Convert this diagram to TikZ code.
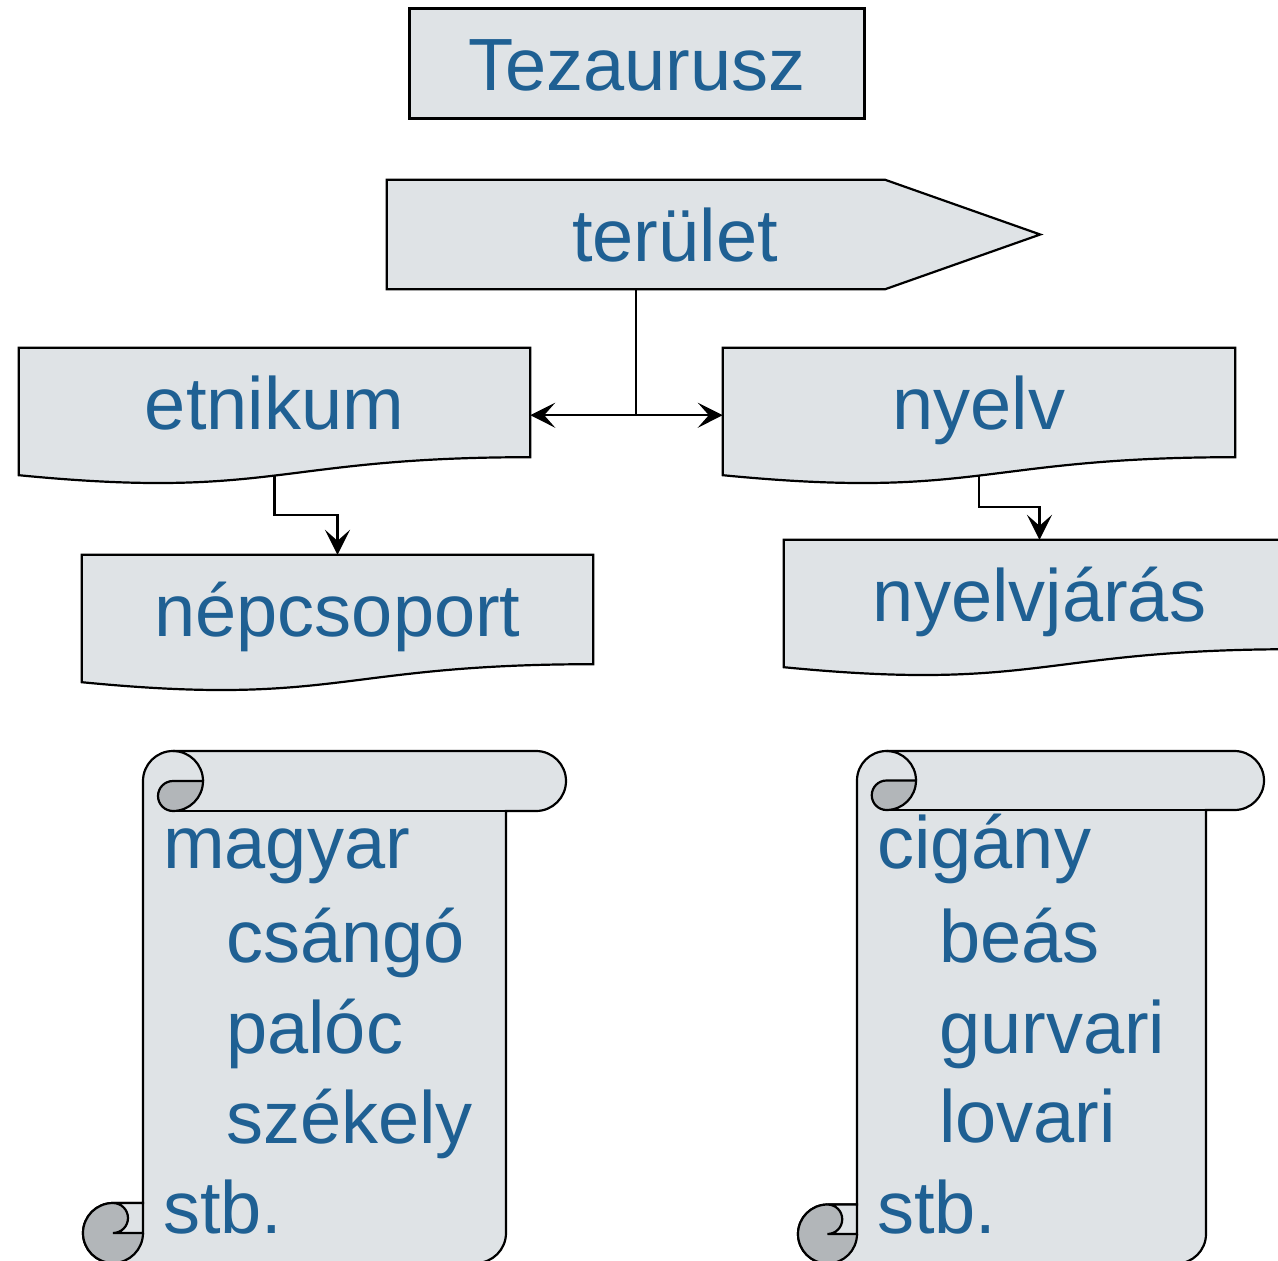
\documentclass[tikz,border=0pt]{standalone}
\usepackage{fontspec}
\setmainfont{Liberation Sans}
\usetikzlibrary{arrows.meta,calc,backgrounds}
\definecolor{boxfill}{RGB}{223,227,230}
\definecolor{curlfill}{RGB}{178,182,185}
\definecolor{txtblue}{RGB}{31,96,147}
\tikzset{
 shapeline/.style={draw=black, fill=boxfill, line width=2.2pt, line join=miter},
 lbl/.style={font=\fontsize{74pt}{88pt}\selectfont, text=txtblue, inner sep=0pt},
 boxn/.style={lbl, minimum height=109pt, text height=54pt, text depth=0pt},
 conn/.style={line width=2.4pt, draw=black},
 arr/.style={conn, -{Stealth[length=25pt,width=25pt,inset=11pt]}},
 linetxt/.style={lbl, anchor=base west},
}
\newcommand{\docpath}[1]{%
  \path[shapeline] (#1.north west) -- (#1.north east) -- (#1.south east)
    .. controls (#1.south) and ($(#1.south)+(0,-43)$) .. ($(#1.south west)+(0,-18)$) -- cycle;}
\newcommand{\scrolldraw}[6]{% L T R E r Bc
  \path[shapeline] ({#1},{-(#2+#5)}) arc[start angle=180,end angle=90,radius=#5]
    -- ({#4-#5},{-(#2)}) arc[start angle=90,end angle=-90,radius=#5]
    -- ({#3},{-(#2+2*#5)}) -- ({#3},{-(#6)}) arc[start angle=0,end angle=-90,radius=#5]
    -- ({#1-#5},{-(#6+#5)}) arc[start angle=270,end angle=90,radius=#5]
    -- ({#1},{-(#6-#5)}) -- cycle;
  \draw[shapeline, fill=none] ({#1+#5},{-(#2+2*#5)}) -- ({#3},{-(#2+2*#5)});
  \draw[shapeline, fill=none] ({#1+#5},{-(#2)}) arc[start angle=90,end angle=0,radius=#5];
  \path[shapeline, fill=curlfill] ({#1+2*#5},{-(#2+#5)}) arc[start angle=0,end angle=-90,radius=#5]
    arc[start angle=-90,end angle=-270,radius=#5/2] -- cycle;
  \fill[curlfill] ({#1-#5},{-(#6)}) circle[radius=#5];
  \draw[shapeline, fill=none] ({#1-#5},{-(#6-#5)}) arc[start angle=90,end angle=360,radius=#5];
  \path[shapeline] ({#1-#5},{-(#6-#5)}) -- ({#1},{-(#6-#5)}) -- ({#1},{-(#6)}) -- ({#1-#5},{-(#6)})
    arc[start angle=-90,end angle=90,radius=#5/2] -- cycle;
}
\begin{document}
\begin{tikzpicture}[x=1pt,y=1pt]
\useasboundingbox (0,0) rectangle (1278,-1261);
\clip (0,0) rectangle (1278,-1261);

% top title
\node[boxn, shapeline, minimum width=455pt, minimum height=110pt] (tez) at (637,-63.5) {Tezaurusz};

% main nodes
\node[boxn, minimum width=498pt] (ter) at (636,-234.5) {\hspace*{78pt}terület};
\node[boxn, minimum width=511pt] (etn) at (274.5,-402.5) {etnikum};
\node[boxn, minimum width=512pt] (nye) at (979,-402.5) {nyelv};
\node[boxn, minimum width=511pt] (nep) at (337.5,-609.5) {népcsoport};
\node[boxn, minimum width=511pt] (nyj) at (1039.5,-594.5) {nyelvjárás};

\begin{pgfonlayer}{background}
  \path[shapeline] (ter.north west) -- (ter.north east) -- ($(ter.east)+(155,0)$) -- (ter.south east) -- (ter.south west) -- cycle;
  \docpath{etn}
  \docpath{nye}
  \docpath{nep}
  \docpath{nyj}
\end{pgfonlayer}

% connectors
\draw[conn] (ter.south) -- ++(0,-126) coordinate (j);
\draw[arr] (j) -- (j -| etn.east);
\draw[arr] (j) -- (j -| nye.west);
\draw[arr] ([yshift=-18pt]etn.south) -- ++(0,-40) -| (nep.north);
\draw[arr] ([yshift=-18pt]nye.south) -- ++(0,-32) -| (nyj.north);

% scrolls
\scrolldraw{143}{751}{506}{566}{30}{1233}
\scrolldraw{857}{751}{1206}{1264}{29.5}{1234}

\node[linetxt] (m1) at (163,-868) {magyar};
\node[linetxt] (m2) at (226,-962.7) {csángó};
\node[linetxt] (m3) at (226,-1053) {palóc};
\node[linetxt] (m4) at (226,-1143) {székely};
\node[linetxt] (m5) at (163,-1233) {stb.};

\node[linetxt] (c1) at (877,-868) {cigány};
\node[linetxt] (c2) at (939,-962.7) {beás};
\node[linetxt] (c3) at (939,-1053) {gurvari};
\node[linetxt] (c4) at (939,-1142.5) {lovari};
\node[linetxt] (c5) at (877,-1233) {stb.};
\end{tikzpicture}
\end{document}
